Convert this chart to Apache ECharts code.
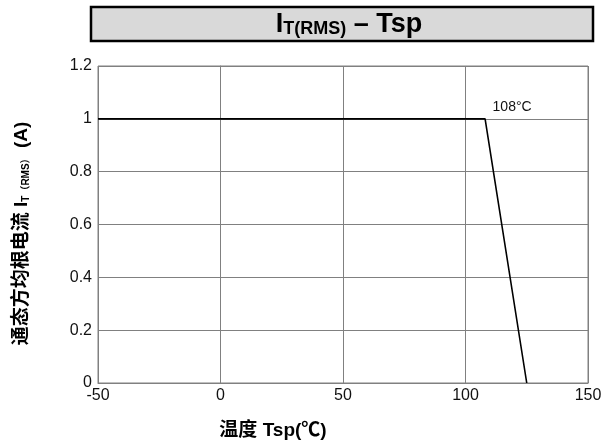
<!DOCTYPE html>
<html>
<head>
<meta charset="utf-8">
<script src="https://cdn.jsdelivr.net/npm/echarts@6/dist/echarts.min.js"></script>
<style>html,body{margin:0;padding:0;background:#fff}#c{width:611px;height:445px}</style>
</head>
<body>
<div id="c"></div>
<script>
// Data
const tempC = [-50, 108, 125];
const currentA = [1, 1, 0];
const kneeLabel = '108°C';
const xTicks = { min: -50, max: 150, interval: 50 };
const yTicks = { min: 0, max: 1.2, interval: 0.2 };

const latin = '"Liberation Sans", Arial, "Noto Sans CJK SC", sans-serif';

const chart = echarts.init(document.getElementById('c'), null, { renderer: 'canvas' });
chart.setOption({
  animation: false,
  backgroundColor: '#fff',
  grid: { left: 98, right: 23, top: 66, bottom: 62, show: true, borderColor: '#808080', borderWidth: 1,
          containLabel: false, outerBoundsMode: 'none' },
  graphic: [
    { type: 'rect', shape: { x: 91, y: 7, width: 502, height: 34 },
      style: { fill: '#d9d9d9', stroke: '#000', lineWidth: 2.5 }, z: 10 },
    { type: 'text', x: 349, y: 38, z: 11,
      style: {
        text: '{a|I}{s|T(RMS)}{a| – Tsp}',
        align: 'center', verticalAlign: 'bottom',
        rich: {
          a: { fontFamily: latin, fontWeight: 'bold', fontSize: 27, lineHeight: 28, verticalAlign: 'bottom', fill: '#000' },
          s: { fontFamily: latin, fontWeight: 'bold', fontSize: 18, lineHeight: 17, verticalAlign: 'bottom', fill: '#000' }
        }
      } }
  ],
  xAxis: {
    type: 'value', min: xTicks.min, max: xTicks.max, interval: xTicks.interval,
    name: '温度 Tsp(℃)', nameLocation: 'middle', nameGap: 38,
    nameTextStyle: { fontFamily: latin, fontWeight: 'bold', fontSize: 19, color: '#000', padding: [0, 140, 0, 0] },
    axisLine: { show: true, lineStyle: { color: '#808080', width: 1 } },
    axisTick: { show: false },
    axisLabel: { fontFamily: latin, fontSize: 16, color: '#111', margin: 5 },
    splitLine: { show: true, lineStyle: { color: '#808080', width: 1 } }
  },
  yAxis: {
    type: 'value', min: yTicks.min, max: yTicks.max, interval: yTicks.interval,
    name: '{a|通态方均根电流 I}{s|T（RMS）}{a| (A)}', nameLocation: 'middle', nameGap: 67, nameRotate: 90,
    nameTextStyle: {
      padding: [0, 18, 0, 0],
      rich: {
        a: { fontFamily: latin, fontWeight: 'bold', fontSize: 19, lineHeight: 21, verticalAlign: 'bottom', color: '#000' },
        s: { fontFamily: latin, fontWeight: 'bold', fontSize: 10, lineHeight: 13, verticalAlign: 'bottom', color: '#000' }
      }
    },
    axisLine: { show: true, lineStyle: { color: '#808080', width: 1 } },
    axisTick: { show: false },
    axisLabel: { fontFamily: latin, fontSize: 16, color: '#111', margin: 6 },
    splitLine: { show: true, lineStyle: { color: '#808080', width: 1 } }
  },
  series: [{
    type: 'line',
    data: tempC.map((t, i) => [t, currentA[i]]),
    symbol: 'none',
    lineStyle: { color: '#000', width: 1.6 },
    label: { show: false },
    markPoint: {
      symbol: 'circle', symbolSize: 0,
      data: [{ coord: [tempC[1], currentA[1]], value: kneeLabel }],
      label: { show: true, formatter: kneeLabel, position: 'top', offset: [27, 0],
        fontFamily: latin, fontSize: 14, color: '#111' }
    }
  }]
});
</script>
</body>
</html>
